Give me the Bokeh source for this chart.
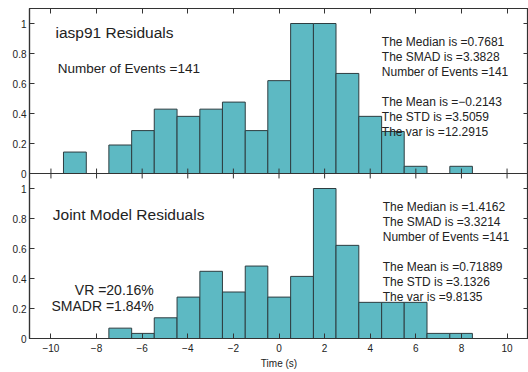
from bokeh.plotting import figure
from bokeh.models import Range1d, LinearAxis, FixedTicker, Span
from bokeh.core.properties import value
from bokeh.embed import file_html
from bokeh.resources import INLINE

# ---- data ----
bin_edges = [-9.45, -8.45, -7.46, -6.46, -5.47, -4.47, -3.47, -2.48, -1.48, -0.49,
             0.51, 1.51, 2.50, 3.50, 4.50, 5.49, 6.49, 7.49, 8.48]
iasp91_heights = [0.143, 0.0, 0.190, 0.286, 0.429, 0.381, 0.429, 0.476, 0.286,
                  0.619, 1.0, 1.0, 0.667, 0.381, 0.280, 0.048, 0.0, 0.048]
joint_heights = [0.0, 0.0, 0.069, 0.034, 0.138, 0.276, 0.448, 0.310, 0.483,
                 0.276, 0.414, 1.0, 0.621, 0.241, 0.241, 0.241, 0.034, 0.034]

x_ticks = [-10, -8, -6, -4, -2, 0, 2, 4, 6, 8, 10]
x_tick_labels = ["\u221210", "\u22128", "\u22126", "\u22124", "\u22122", "0", "2", "4", "6", "8", "10"]
y_tick_labels = ["0", "0.2", "0.4", "0.6", "0.8", "1"]
# bottom panel occupies y 0..1.1, top panel sits above it (offset 1.1)
y_ticks_bottom = [0.0, 0.2, 0.4, 0.6, 0.8, 1.0]
y_ticks_top = [1.1, 1.3, 1.5, 1.7, 1.9, 2.1]
panel_offset = 1.1

top_title = "iasp91 Residuals"
top_count = "Number of Events =141"
top_stats = ["The Median is =0.7681", "The SMAD is =3.3828", "Number of Events =141",
             "The Mean is =\u22120.2143", "The STD is =3.5059", "The var is =12.2915"]
bottom_title = "Joint Model Residuals"
bottom_ratios = ["VR =20.16%", "SMADR =1.84%"]
bottom_stats = ["The Median is =1.4162", "The SMAD is =3.3214", "Number of Events =141",
                "The Mean is =0.71889", "The STD is =3.1326", "The var is =9.8135"]
x_label = "Time (s)"

FONT = "Liberation Sans"
FILL = "#5DB9C3"
EDGE = "#2E3D40"
AX = "#333333"
TXT = "#222222"

stats_y = [0.877, 0.777, 0.677, 0.477, 0.377, 0.277]

p = figure(frame_width=499, frame_height=330,
           x_range=Range1d(-10.94, 10.94), y_range=Range1d(0, 2.2),
           output_backend="svg", toolbar_location=None,
           x_axis_location=None, y_axis_location=None,
           min_border_left=29, min_border_right=0, min_border_top=8, min_border_bottom=0,
           background_fill_color="white", border_fill_color="white")
p.outline_line_color = AX
p.outline_line_width = 1.2
p.xgrid.visible = False
p.ygrid.visible = False


def style_axis(ax, ticks, labels=None):
    ax.axis_line_color = AX
    ax.axis_line_width = 1.2
    ax.major_tick_line_color = AX
    ax.major_tick_in = 5
    ax.major_tick_out = 0
    ax.minor_tick_line_color = None
    if labels is None:
        ax.major_label_overrides = {t: "" for t in ticks}
        ax.major_label_text_font_size = "0px"
        ax.major_label_standoff = 0
    else:
        ax.major_label_overrides = dict(zip(ticks, labels))
        ax.major_label_text_font = FONT
        ax.major_label_text_font_size = "10px"
        ax.major_label_text_color = TXT


def bars(heights, base):
    left = [e for e, h in zip(bin_edges[:-1], heights) if h > 0]
    right = [e for e, h in zip(bin_edges[1:], heights) if h > 0]
    tops = [base + h for h in heights if h > 0]
    p.quad(left=left, right=right, bottom=base, top=tops,
           fill_color=FILL, line_color=EDGE, line_width=1)


bars(joint_heights, 0.0)
bars(iasp91_heights, panel_offset)

# separator between the two panels, with inward ticks on both sides
p.add_layout(Span(location=panel_offset, dimension="width", line_color=AX, line_width=1.2))
p.segment(x0=x_ticks, x1=x_ticks,
          y0=[panel_offset - 0.033] * len(x_ticks), y1=[panel_offset + 0.033] * len(x_ticks),
          line_color=AX, line_width=1)

all_y_ticks = y_ticks_bottom + y_ticks_top
yl = LinearAxis(ticker=FixedTicker(ticks=all_y_ticks))
style_axis(yl, all_y_ticks, y_tick_labels + y_tick_labels)
yl.major_label_standoff = 3
p.add_layout(yl, "left")

yr = LinearAxis(ticker=FixedTicker(ticks=all_y_ticks))
style_axis(yr, all_y_ticks)
p.add_layout(yr, "right")

xt = LinearAxis(ticker=FixedTicker(ticks=x_ticks))
style_axis(xt, x_ticks)
p.add_layout(xt, "above")

xb = LinearAxis(ticker=FixedTicker(ticks=x_ticks))
style_axis(xb, x_ticks, x_tick_labels)
xb.major_label_standoff = 5
xb.axis_label = x_label
xb.axis_label_text_font = FONT
xb.axis_label_text_font_size = "10px"
xb.axis_label_text_font_style = "normal"
xb.axis_label_text_color = TXT
xb.axis_label_standoff = 3
p.add_layout(xb, "below")

# top panel texts
p.text(x=[-9.8], y=[panel_offset + 0.94], text=[top_title], text_font=value(FONT),
       text_font_size="15.5px", text_color=TXT, text_baseline="alphabetic")
p.text(x=[-9.7], y=[panel_offset + 0.70], text=[top_count], text_font=value(FONT),
       text_font_size="13.5px", text_color=TXT, text_baseline="alphabetic")
p.text(x=[4.51] * len(top_stats), y=[panel_offset + v for v in stats_y], text=top_stats,
       text_font=value(FONT), text_font_size="12px", text_color=TXT,
       text_baseline="alphabetic")

# bottom panel texts
p.text(x=[-9.92], y=[0.829], text=[bottom_title], text_font=value(FONT),
       text_font_size="15.5px", text_color=TXT, text_baseline="alphabetic")
p.text(x=[-5.49, -5.49], y=[0.323, 0.218], text=bottom_ratios, text_font=value(FONT),
       text_font_size="14px", text_color=TXT, text_baseline="alphabetic",
       text_align="right")
p.text(x=[4.55] * len(bottom_stats), y=stats_y, text=bottom_stats, text_font=value(FONT),
       text_font_size="12px", text_color=TXT, text_baseline="alphabetic")

open("out.html", "w").write(file_html(p, INLINE))
